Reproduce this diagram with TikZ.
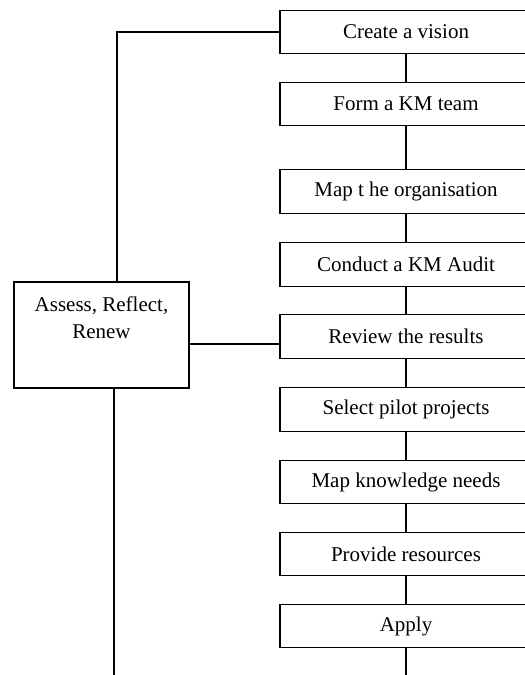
\documentclass[tikz,border=0pt]{standalone}
\usepackage{fontspec}
\setmainfont{Liberation Serif}
\begin{document}
\begin{tikzpicture}[x=1pt,y=-1pt,
  stepbox/.style={draw,line width=1.2pt,minimum width=252pt,minimum height=43.5pt,inner sep=0pt,font=\fontsize{21}{26}\selectfont},
  link/.style={line width=1.2pt}]
\useasboundingbox (0,0) rectangle (525,675);
\node[stepbox] (s1) at (406,32) {Create a vision};
\node[stepbox] (s2) at (406,104) {Form a KM team};
\node[stepbox] (s3) at (406,191.5) {Map t he organisation};
\node[stepbox] (s4) at (406,264.5) {Conduct a KM Audit};
\node[stepbox] (s5) at (406,336.5) {Review the results};
\node[stepbox] (s6) at (406,409.5) {Select pilot projects};
\node[stepbox] (s7) at (406,482) {Map knowledge needs};
\node[stepbox] (s8) at (406,554) {Provide resources};
\node[stepbox] (s9) at (406,626) {Apply};
\node[draw,line width=1.2pt,minimum width=175pt,minimum height=106pt,inner sep=0pt] (arr) at (101.5,335) {};
\node[align=center,inner sep=0pt,font=\fontsize{21}{27}\selectfont] (arrtxt) at (101.5,318) {Assess, Reflect,\\Renew};
\coordinate (endR) at (406,676);
\coordinate (endL) at (114,676);
\draw[link] (s1) -- (s2);
\draw[link] (s2) -- (s3);
\draw[link] (s3) -- (s4);
\draw[link] (s4) -- (s5);
\draw[link] (s5) -- (s6);
\draw[link] (s6) -- (s7);
\draw[link] (s7) -- (s8);
\draw[link] (s8) -- (s9);
\draw[link] (s9) -- (endR);
\draw[link] (s1.west) -| ([xshift=15.5pt]arr.north);
\draw[link] ([xshift=12.5pt]arr.south) -- (endL);
\draw[link] ([yshift=-9pt]arr.east) -- ([yshift=-9pt]arr.east -| s5.west);
\end{tikzpicture}
\end{document}
